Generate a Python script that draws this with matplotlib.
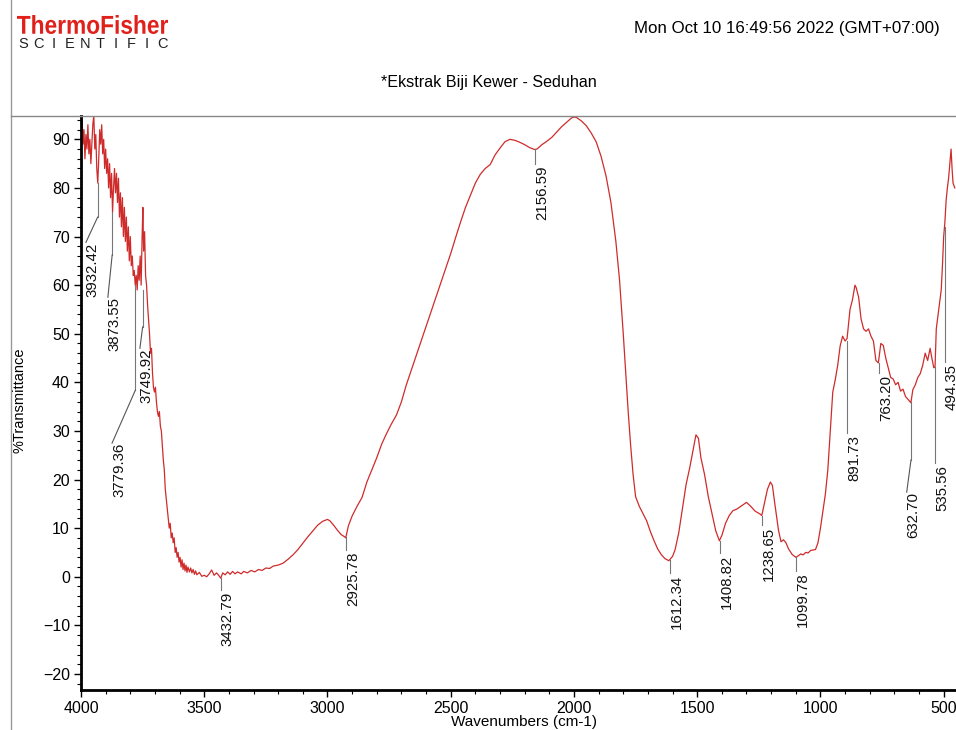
import numpy as np
import matplotlib
matplotlib.use("Agg")
import matplotlib.pyplot as plt
from matplotlib.ticker import MultipleLocator
from matplotlib.lines import Line2D
from matplotlib.textpath import TextPath
from matplotlib.patches import PathPatch
from matplotlib.font_manager import FontProperties
from matplotlib.transforms import Affine2D

plt.rcParams['font.family'] = ['Liberation Sans', 'DejaVu Sans']

# spectrum (wavenumber cm-1, %T)
wavenumber = [
    4000, 3996, 3992, 3988, 3984, 3980, 3976, 3972, 3968, 3964, 3960, 3956, 3952, 3948,
    3944, 3940, 3936, 3932, 3928, 3924, 3920, 3916, 3912, 3908, 3904, 3900, 3896, 3892,
    3888, 3884, 3880, 3876, 3872, 3868, 3864, 3860, 3856, 3852, 3848, 3844, 3840, 3836,
    3832, 3828, 3824, 3820, 3816, 3812, 3808, 3804, 3800, 3796, 3792, 3788, 3784, 3780,
    3776, 3772, 3768, 3764, 3760, 3756, 3752, 3749, 3746, 3742, 3738, 3734, 3730, 3726,
    3722, 3718, 3714, 3710, 3706, 3702, 3698, 3694, 3690, 3686, 3682, 3678, 3674, 3670,
    3666, 3662, 3658, 3654, 3650, 3646, 3642, 3638, 3634, 3630, 3626, 3622, 3618, 3614,
    3610, 3606, 3602, 3598, 3594, 3590, 3586, 3582, 3578, 3574, 3570, 3566, 3560, 3555,
    3550, 3545, 3540, 3535, 3530, 3520, 3510, 3500, 3490, 3480, 3470, 3460, 3450, 3440,
    3433, 3425, 3415, 3405, 3395, 3385, 3375, 3365, 3350, 3340, 3325, 3310, 3295, 3280,
    3265, 3250, 3235, 3220, 3200, 3180, 3160, 3140, 3120, 3100, 3080, 3060, 3040, 3020,
    3000, 2990, 2975, 2960, 2945, 2930, 2926, 2915, 2900, 2880, 2860, 2840, 2820, 2800,
    2780, 2760, 2740, 2720, 2700, 2680, 2660, 2640, 2620, 2600, 2580, 2560, 2540, 2520,
    2500, 2480, 2460, 2440, 2420, 2400, 2380, 2360, 2340, 2320, 2300, 2280, 2260, 2240,
    2220, 2200, 2180, 2160, 2150, 2130, 2110, 2090, 2070, 2050, 2030, 2010, 2000, 1990,
    1970, 1950, 1930, 1910, 1890, 1870, 1850, 1830, 1815, 1800, 1790, 1780, 1770, 1760,
    1750, 1735, 1720, 1705, 1690, 1675, 1660, 1645, 1630, 1615, 1600, 1590, 1575, 1560,
    1545, 1530, 1515, 1505, 1495, 1485, 1470, 1455, 1440, 1425, 1410, 1400, 1385, 1370,
    1355, 1340, 1320, 1300, 1285, 1265, 1245, 1238, 1230, 1215, 1203, 1195, 1185, 1170,
    1160, 1150, 1140, 1130, 1115, 1100, 1090, 1080, 1070, 1060, 1050, 1040, 1030, 1020,
    1010, 1000, 990, 980, 970, 960, 950, 940, 930, 920, 910, 900, 892, 880,
    870, 860, 855, 845, 835, 825, 815, 805, 795, 785, 775, 765, 755, 745,
    735, 725, 715, 705, 695, 685, 675, 665, 655, 645, 633, 625, 615, 605,
    595, 585, 575, 565, 555, 548, 540, 535, 530, 520, 510, 505, 500, 495,
    490, 485, 480, 475, 470, 466, 462, 455,
]
transmittance = [
    93, 95, 89, 92, 86, 91, 88, 93, 87, 90, 85, 89, 93, 95,
    88, 91, 84, 81, 86, 92, 89, 93, 87, 90, 84, 88, 83, 86,
    80, 85, 78, 83, 75, 80, 84, 79, 83, 77, 82, 74, 79, 72,
    78, 70, 76, 69, 74, 67, 72, 65, 70, 64, 66, 62, 63, 60,
    62, 59, 64, 61, 66, 60, 70, 76, 67, 71, 62, 60, 56, 53,
    50, 46, 47, 42, 39, 38, 39, 36, 34, 33, 34, 31, 30, 27,
    24, 22, 18, 16, 14, 12, 10, 11, 8, 9, 7, 8, 5, 6,
    4, 5, 3, 4, 2, 3.5, 1.5, 2.8, 1.2, 2.4, 0.9, 2, 1, 1.8,
    0.8, 1.5, 0.5, 1.2, 0.4, 0.9, 0.1, 0.3, 0.0, 0.6, 1.4, 0.3, 0.8, 0.2,
    -0.3, 0.8, 0.4, 1.0, 0.5, 1.1, 0.6, 1.0, 0.6, 1.1, 0.8, 1.3, 1.0, 1.5,
    1.3, 1.8, 1.7, 2.2, 2.4, 2.8, 3.6, 4.5, 5.6, 6.9, 8.2, 9.4, 10.6, 11.4,
    11.8, 11.5, 10.6, 9.6, 8.7, 8.2, 8.0, 10.5, 12.5, 14.5, 16.3, 19.5, 22.0, 24.5,
    27.3, 29.5, 31.5, 33.3, 36, 39.5, 42.5, 45.5, 48.5, 51.5, 54.5, 57.5, 60.5, 63.5,
    66.5, 69.8, 73, 76, 78.5, 81, 82.8, 84, 84.8, 86.8, 88.2, 89.5, 90, 89.8,
    89.4, 88.9, 88.3, 87.9, 88, 88.9, 89.6, 90.4, 91.5, 92.6, 93.5, 94.4, 94.6, 94.5,
    93.8, 92.8, 91.3, 89.5, 86.5, 82.5, 77, 69, 61, 50, 42, 34, 27, 21,
    16.5, 14.5, 13, 11.5, 9.3, 7.4, 5.7, 4.5, 3.7, 3.3, 4.2, 5.5, 9, 14,
    19, 22.5, 26.5, 29.2, 28.5, 24.5, 21, 16.5, 13, 9.5, 7.4, 8.5, 11, 12.6,
    13.6, 13.9, 14.6, 15.3, 14.6, 13.5, 12.9, 12.6, 14.5, 18, 19.5, 18.8, 15, 9.5,
    7.2, 7.6, 7.0, 5.8, 4.6, 4.0, 4.3, 4.7, 4.5, 5.0, 4.9, 5.4, 5.5, 5.6,
    7.0, 10, 13.5, 17, 22, 30, 38, 40.5, 43.5, 47.5, 49.5, 48.5, 49, 55,
    57, 60, 59.5, 57.5, 53, 51, 50.5, 51, 49.5, 48.5, 44.5, 44, 48, 47.6,
    45, 43, 41, 40.7, 39.5, 40, 38.2, 38.6, 37.1, 36.5, 35.8, 38.5, 39.5, 41,
    41.8, 43.5, 46, 44.5, 47, 45, 43, 43.2, 51, 55, 59, 64, 70, 73,
    77.5, 80, 82, 85, 88, 84, 81, 80,
]

# peak labels
peak_pos = [3932.42, 3873.55, 3779.36, 3749.92, 3432.79, 2925.78, 2156.59, 1612.34,
            1408.82, 1238.65, 1099.78, 891.73, 763.20, 632.70, 535.56, 494.35]
peak_top = [81, 75, 60, 59, -0.3, 8.2, 88, 3.4, 7.4, 12.6, 4.0, 48.5, 44, 36, 43.2, 72]
lead_end = [74, 66.2, 38.4, 51.4, -2.7, 5.5, 85, 0.8, 4.9, 10.6, 1.2, 29.5, 41.9, 24, 23.4, 44.2]
# where the bent lead ends (wavenumber, %T), None for straight ones
bend_end = [(3980, 68.8), (3891, 57.5), (3874, 27.5), (3761, 47), None, None, None, None,
            None, None, None, None, None, (650, 17.4), None, None]

W, H = 956, 730
fig = plt.figure(figsize=(W / 100, H / 100), dpi=100)
ax = fig.add_axes([81 / W, 1 - 690 / H, 1 - 81 / W, (690 - 116) / H])

ax.plot(wavenumber, transmittance, color='#cf2b2b', lw=0.9)

for i, pos in enumerate(peak_pos):
    ax.plot([pos, pos], [peak_top[i], lead_end[i]], color='#777777', lw=0.8)
    if bend_end[i] is not None:
        bx, by = bend_end[i]
        ax.plot([pos, bx], [lead_end[i], by], color='#555555', lw=0.8)
        tx, ty = bx, by
    else:
        tx, ty = pos, lead_end[i] - 0.4
    ax.text(tx, ty, f"{pos:.2f}", rotation=90, ha='left', va='top',
            fontsize=10.8, color='#111111', clip_on=False)

ax.set_xlim(4000, 450)
ax.set_ylim(-23.3, 94.8)
ax.xaxis.set_major_locator(MultipleLocator(500))
ax.xaxis.set_minor_locator(MultipleLocator(100))
ax.yaxis.set_major_locator(MultipleLocator(10))
ax.yaxis.set_minor_locator(MultipleLocator(2))
ax.tick_params(which='major', direction='out', length=5, width=1, labelsize=11.5, pad=3)
ax.tick_params(which='minor', direction='out', length=3, width=0.8)

ax.spines['left'].set_linewidth(2)
ax.spines['bottom'].set_linewidth(2)
ax.spines['top'].set_color('#888888')
ax.spines['top'].set_linewidth(1)
ax.spines['right'].set_visible(False)

# page frame on the left
fig.add_artist(Line2D([11 / W, 11 / W], [0, 1], color='#999999', lw=1))
fig.add_artist(Line2D([11 / W, 81 / W], [1 - 116 / H, 1 - 116 / H],
                      color='#888888', lw=1))

fig.text(20 / W, 1 - 400 / H, '%Transmittance', rotation=90, ha='center',
         va='center', fontsize=10.5)
fig.text(524 / W, 1 - 722 / H, 'Wavenumbers (cm-1)', ha='center', va='center',
         fontsize=11)

fig.text(489 / W, 1 - 82 / H, '*Ekstrak Biji Kewer - Seduhan', ha='center',
         va='center', fontsize=11.6)
fig.text(940 / W, 1 - 28 / H, 'Mon Oct 10 16:49:56 2022 (GMT+07:00)', ha='right',
         va='center', fontsize=12.2)


# logo: condensed bold word squeezed into its box (pixels from top-left)
def boxed_text(s, x0, x1, ytop, ybot, color, weight='bold'):
    tp = TextPath((0, 0), s, size=10, prop=FontProperties(family='Liberation Sans',
                                                        weight=weight))
    ext = tp.get_extents()
    sx = (x1 - x0) / ext.width
    sy = (ybot - ytop) / ext.height
    tr = (Affine2D().translate(-ext.x0, -ext.y0).scale(sx, sy)
          .translate(x0, H - ybot) + Affine2D().scale(1 / W, 1 / H) + fig.transFigure)
    fig.add_artist(PathPatch(tp, transform=tr, facecolor=color, edgecolor='none'))


boxed_text('ThermoFisher', 17, 168, 15, 34, '#e0201b')
for k, ch in enumerate('SCIENTIFIC'):
    fig.text((23 + k * 15.5) / W, 1 - 43.5 / H, ch, ha='center', va='center',
             fontsize=10.5, color='#222222')

fig.savefig('out.png', dpi=100)
